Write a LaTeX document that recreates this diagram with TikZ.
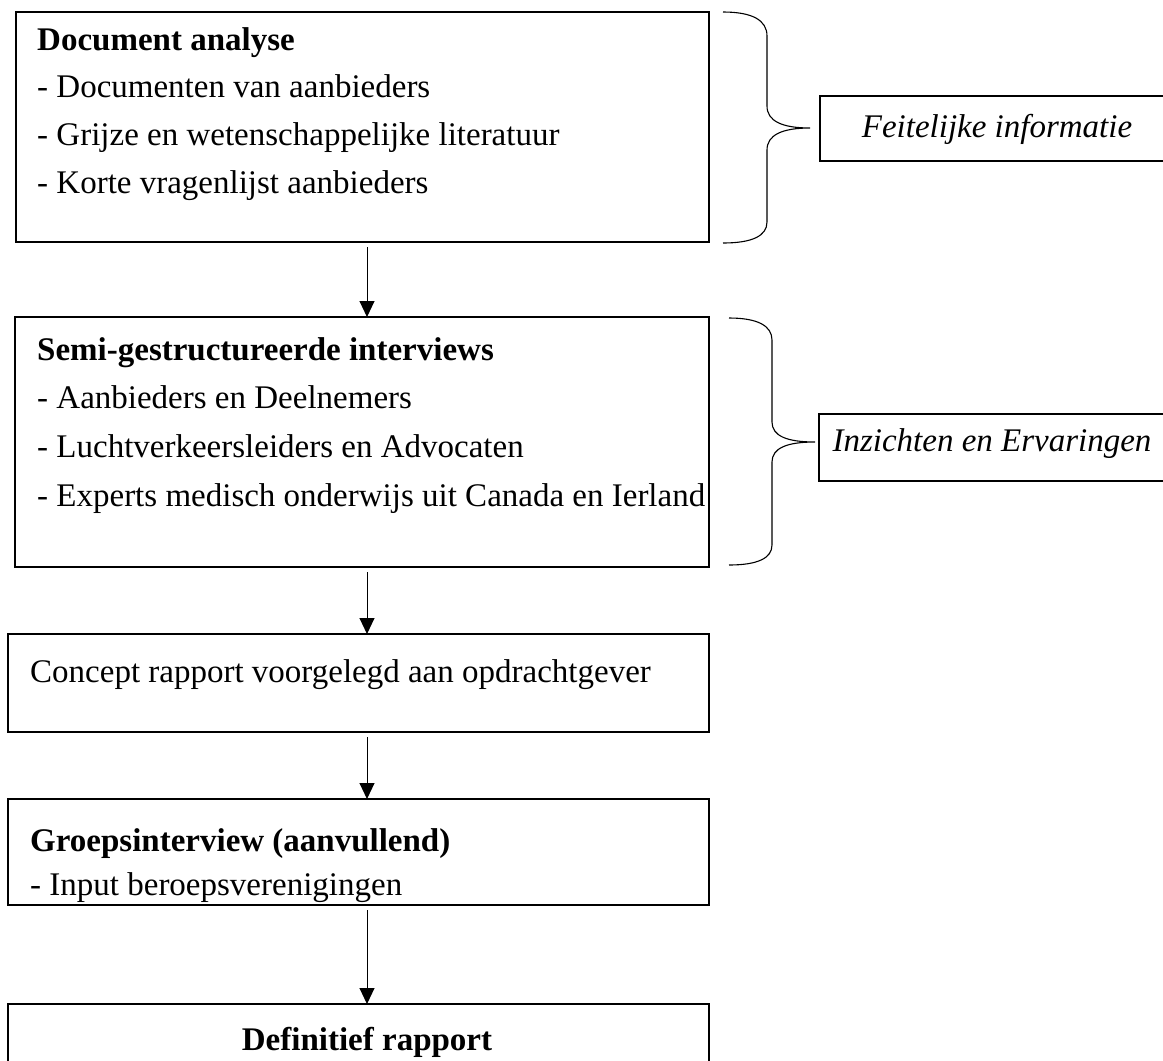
\documentclass[tikz,border=0pt]{standalone}
\usepackage{fontspec}
\setmainfont{Liberation Serif}
\usepackage{tikz}
\usetikzlibrary{positioning,calc}
\usetikzlibrary{arrows.meta}

\begin{document}
\begin{tikzpicture}[x=1pt,y=-1pt,
		stepbox/.style={draw=black,line width=2.2pt,rectangle,inner sep=0pt,outer sep=0pt,anchor=north west},
		txt/.style={anchor=base west,inner sep=0pt,font=\fontsize{33}{40}\selectfont},
		flow/.style={-{Triangle[width=15pt,length=16pt]},line width=1pt,shorten <=5pt},
		brc/.style={line width=1.1pt},
		sidebox/.style={line width=1.3pt}]
				\useasboundingbox (0,0) rectangle (1163,1061);
				
				% boxes of the flow
				\node[stepbox,minimum width=693pt,minimum height=230pt] (doc) at (16,12) {};
				\node[stepbox,minimum width=694pt,minimum height=250pt] (semi) at (15,317) {};
				\node[stepbox,minimum width=701pt,minimum height=98pt] (concept) at (8,634) {};
				\node[stepbox,minimum width=701pt,minimum height=106pt] (groep) at (8,799) {};
				\draw[line width=2.2pt] (8,1061) -- (8,1004) -- (709,1004) -- (709,1061);
				\coordinate (fin) at (367,1004);
				
				% texts
				\node[txt,font=\fontsize{33}{40}\selectfont\bfseries] (docT) at (37,50) {Document analyse};
				\node[txt] (doc1) at (37,97) {- Documenten van aanbieders};
				\node[txt] (doc2) at (37,145) {- Grijze en wetenschappelijke literatuur};
				\node[txt] (doc3) at (37,193) {- Korte vragenlijst aanbieders};
				
				\node[txt,font=\fontsize{33}{40}\selectfont\bfseries] (semiT) at (37,360) {Semi-gestructureerde interviews};
				\node[txt] (semi1) at (37,408) {- Aanbieders en Deelnemers};
				\node[txt] (semi2) at (37,457) {- Luchtverkeersleiders en Advocaten};
				\node[txt] (semi3) at (37,506) {- Experts medisch onderwijs uit Canada en Ierland};
				
				\node[txt] (conceptT) at (30,682) {Concept rapport voorgelegd aan opdrachtgever};
				
				\node[txt,font=\fontsize{33}{40}\selectfont\bfseries] (groepT) at (30,851) {Groepsinterview (aanvullend)};
				\node[txt] (groep1) at (30,895) {- Input beroepsverenigingen};
				
				\node[txt,anchor=base,font=\fontsize{33}{40}\selectfont\bfseries] (finT) at (367,1050) {Definitief rapport};
				
				% arrows
				\coordinate (ax) at (367,0);
				\draw[flow] (doc.south -| ax) -- (semi.north -| ax);
				\draw[flow] (semi.south -| ax) -- (concept.north -| ax);
				\draw[flow] (concept.south -| ax) -- (groep.north -| ax);
				\draw[flow] (groep.south -| ax) -- (fin);
				
				% braces and side labels
				\draw[brc] (723,12) .. controls (752,12) and (767,20) .. (767,36) -- (767,106)
				.. controls (767,121) and (782,128) .. (810,128)
				.. controls (782,128) and (767,135) .. (767,150) -- (767,222)
				.. controls (767,236) and (752,243) .. (723,243);
				\draw[brc] (729,318) .. controls (758,318) and (772,326) .. (772,340) -- (772,422)
				.. controls (772,436) and (787,442) .. (815,442)
				.. controls (787,442) and (772,448) .. (772,462) -- (772,545)
				.. controls (772,558) and (758,565) .. (729,565);
				
				\draw[sidebox] (1163,96) -- (820,96) -- (820,161) -- (1163,161);
				\node[txt,anchor=base,font=\fontsize{33}{40}\selectfont\itshape] (feit) at (997,137) {Feitelijke informatie};
				\draw[sidebox] (1163,414) -- (819,414) -- (819,481) -- (1163,481);
				\node[txt,anchor=base,font=\fontsize{33}{40}\selectfont\itshape] (inz) at (992,451) {Inzichten en Ervaringen};
			\end{tikzpicture}
\end{document}
